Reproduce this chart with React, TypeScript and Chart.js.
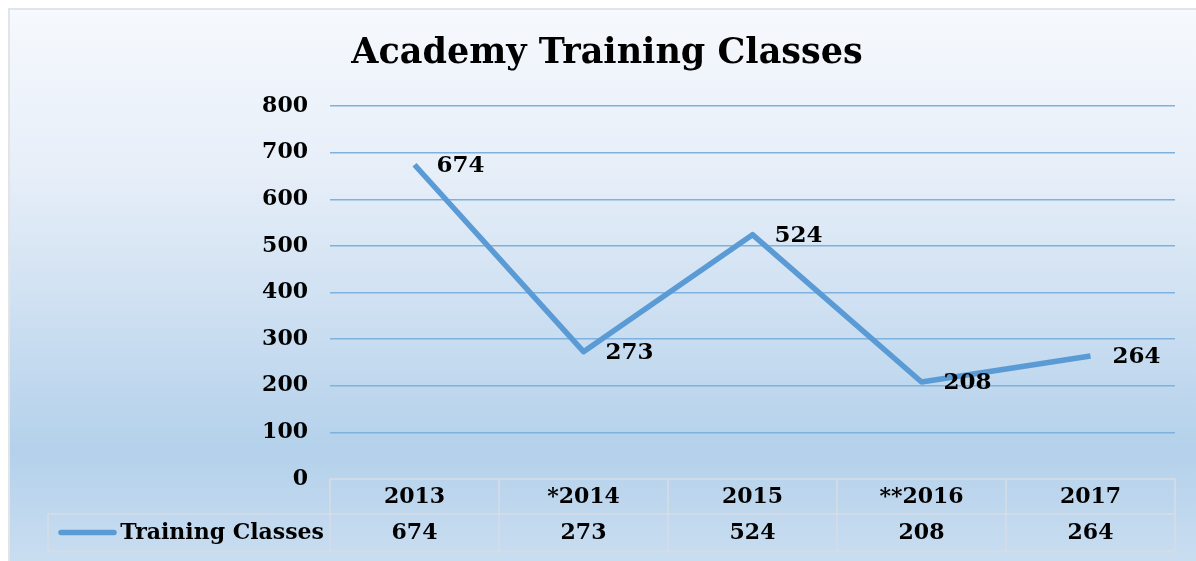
import React, { useEffect, useRef } from "react";
import { Chart, registerables } from "chart.js";

Chart.register(...registerables);

const title = "Academy Training Classes";
const seriesName = "Training Classes";
const categories = ["2013", "*2014", "2015", "**2016", "2017"];
const trainingClasses = [674, 273, 524, 208, 264];
const yMin = 0;
const yMax = 800;
const yStep = 100;

const FONT = "'DejaVu Serif', 'Liberation Serif', serif";
const LINE_COLOR = "#5b9bd5";
const TABLE_LINE = "#d6dde6";

const backgroundPlugin = {
  id: "panelBg",
  beforeDraw(chart: any) {
    const { ctx, width, height } = chart;
    ctx.save();
    ctx.fillStyle = "#ffffff";
    ctx.fillRect(0, 0, width, height);
    const g = ctx.createLinearGradient(0, 10, 0, height);
    g.addColorStop(0, "#f6f9fd");
    g.addColorStop(0.3, "#e6eef8");
    g.addColorStop(0.8, "#b4d1eb");
    g.addColorStop(1, "#c9ddf0");
    ctx.fillStyle = g;
    ctx.fillRect(9, 9, width - 9, height - 9);
    ctx.strokeStyle = "#e2e4e6";
    ctx.lineWidth = 2;
    ctx.beginPath();
    ctx.moveTo(9, height);
    ctx.lineTo(9, 9);
    ctx.lineTo(width, 9);
    ctx.stroke();
    // title
    ctx.fillStyle = "#000000";
    ctx.font = `bold 35px ${FONT}`;
    ctx.textAlign = "center";
    ctx.textBaseline = "middle";
    ctx.fillText(title, 607, 54);
    ctx.restore();
  },
};

const labelsPlugin = {
  id: "pointLabels",
  afterDatasetsDraw(chart: any) {
    const { ctx } = chart;
    const meta = chart.getDatasetMeta(0);
    ctx.save();
    ctx.fillStyle = "#000000";
    ctx.font = `bold 23px ${FONT}`;
    ctx.textAlign = "left";
    ctx.textBaseline = "middle";
    meta.data.forEach((pt: any, i: number) => {
      ctx.fillText(String(trainingClasses[i]), pt.x + 22, pt.y + 1);
    });
    ctx.restore();
  },
};

const tablePlugin = {
  id: "dataTable",
  afterDraw(chart: any) {
    const { ctx, chartArea, scales } = chart;
    const xs = scales.x;
    const left = chartArea.left;
    const right = chartArea.right;
    const top = chartArea.bottom;
    const rowH = 35;
    const mid = top + rowH;
    const bottom = top + 2 * rowH + 2;
    const legendLeft = 48;
    const n = categories.length;
    const colW = (right - left) / n;
    ctx.save();
    ctx.strokeStyle = TABLE_LINE;
    ctx.lineWidth = 1.5;
    ctx.beginPath();
    ctx.moveTo(left, top);
    ctx.lineTo(right, top);
    ctx.moveTo(legendLeft, mid);
    ctx.lineTo(right, mid);
    ctx.moveTo(legendLeft, bottom);
    ctx.lineTo(right, bottom);
    ctx.moveTo(legendLeft, mid);
    ctx.lineTo(legendLeft, bottom);
    for (let i = 0; i <= n; i++) {
      const x = left + i * colW;
      ctx.moveTo(x, top);
      ctx.lineTo(x, bottom);
    }
    ctx.stroke();

    ctx.fillStyle = "#000000";
    ctx.font = `bold 22px ${FONT}`;
    ctx.textAlign = "center";
    ctx.textBaseline = "middle";
    categories.forEach((c, i) => {
      const x = xs.getPixelForValue(i);
      ctx.fillText(c, x, top + rowH / 2 + 1);
      ctx.fillText(String(trainingClasses[i]), x, mid + rowH / 2 + 2);
    });

    // legend key
    ctx.strokeStyle = LINE_COLOR;
    ctx.lineWidth = 5.5;
    ctx.lineCap = "round";
    ctx.beginPath();
    ctx.moveTo(61, mid + rowH / 2 + 1);
    ctx.lineTo(114, mid + rowH / 2 + 1);
    ctx.stroke();
    ctx.font = `bold 22px ${FONT}`;
    ctx.textAlign = "right";
    ctx.fillText(seriesName, left - 6, mid + rowH / 2 + 2);
    ctx.restore();
  },
};

export default function App() {
  const canvasRef = useRef<HTMLCanvasElement | null>(null);

  useEffect(() => {
    const canvas = canvasRef.current;
    if (!canvas) return;
    const chart = new Chart(canvas, {
      type: "line",
      data: {
        labels: categories,
        datasets: [
          {
            label: seriesName,
            data: trainingClasses,
            borderColor: LINE_COLOR,
            backgroundColor: LINE_COLOR,
            borderWidth: 5.5,
            pointRadius: 0,
            tension: 0,
            borderJoinStyle: "round",
          },
        ],
      },
      options: {
        responsive: false,
        animation: false,
        layout: { padding: { top: 106, left: 0, right: 21, bottom: 82 } },
        plugins: {
          legend: { display: false },
          title: { display: false },
          tooltip: { enabled: false },
        },
        scales: {
          x: {
            display: false,
            offset: true,
          },
          y: {
            min: yMin,
            max: yMax,
            afterFit(scale: any) {
              scale.width = 330;
            },
            ticks: {
              stepSize: yStep,
              padding: 22,
              color: "#000000",
              font: { family: FONT, size: 22, weight: "bold" },
            },
            border: { display: false },
            grid: {
              drawTicks: false,
              lineWidth: 1.5,
              color: (ctx: any) =>
                ctx.tick && ctx.tick.value === 0 ? "rgba(0,0,0,0)" : "#7fb1de",
            },
          },
        },
      },
      plugins: [backgroundPlugin, labelsPlugin, tablePlugin],
    });
    return () => chart.destroy();
  }, []);

  return (
    <div style={{ position: "fixed", left: 0, top: 0, width: 1196, height: 561 }}>
      <canvas ref={canvasRef} width={1196} height={561} />
    </div>
  );
}
